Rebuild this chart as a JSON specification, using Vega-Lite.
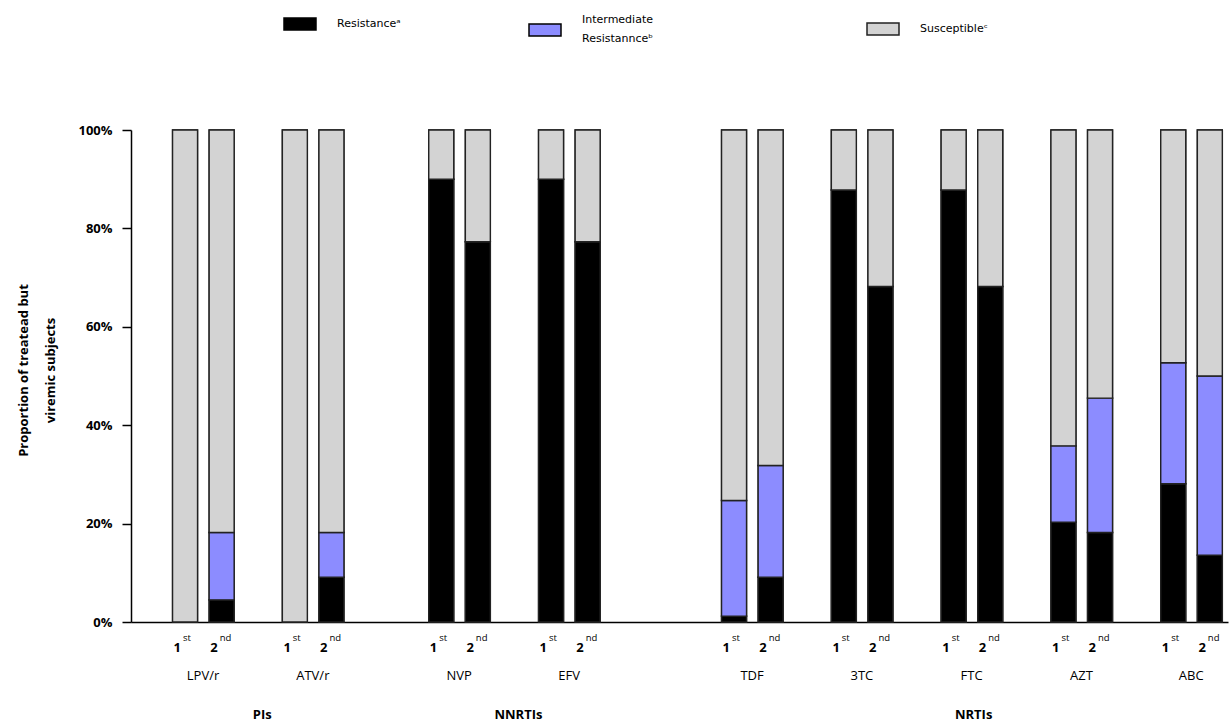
{
  "$schema": "https://vega.github.io/schema/vega-lite/v6.json",
  "autosize": {"type": "none"},
  "padding": {"left": 131, "top": 130, "right": 2, "bottom": 105},
  "width": 1097,
  "height": 492,
  "background": "white",
  "config": {
    "view": {"stroke": null},
    "font": "Open Sans",
    "axis": {"grid": false}
  },
  "data": {
    "values": [
      {"drug": "LPV/r", "round": "1st", "status": "Susceptible", "value": 1.0},
      {"drug": "LPV/r", "round": "2nd", "status": "Resistance", "value": 0.045},
      {"drug": "LPV/r", "round": "2nd", "status": "Intermediate Resistannce", "value": 0.137},
      {"drug": "LPV/r", "round": "2nd", "status": "Susceptible", "value": 0.818},
      {"drug": "ATV/r", "round": "1st", "status": "Susceptible", "value": 1.0},
      {"drug": "ATV/r", "round": "2nd", "status": "Resistance", "value": 0.091},
      {"drug": "ATV/r", "round": "2nd", "status": "Intermediate Resistannce", "value": 0.091},
      {"drug": "ATV/r", "round": "2nd", "status": "Susceptible", "value": 0.818},
      {"drug": "NVP", "round": "1st", "status": "Resistance", "value": 0.9},
      {"drug": "NVP", "round": "1st", "status": "Susceptible", "value": 0.1},
      {"drug": "NVP", "round": "2nd", "status": "Resistance", "value": 0.773},
      {"drug": "NVP", "round": "2nd", "status": "Susceptible", "value": 0.227},
      {"drug": "EFV", "round": "1st", "status": "Resistance", "value": 0.9},
      {"drug": "EFV", "round": "1st", "status": "Susceptible", "value": 0.1},
      {"drug": "EFV", "round": "2nd", "status": "Resistance", "value": 0.773},
      {"drug": "EFV", "round": "2nd", "status": "Susceptible", "value": 0.227},
      {"drug": "TDF", "round": "1st", "status": "Resistance", "value": 0.012},
      {"drug": "TDF", "round": "1st", "status": "Intermediate Resistannce", "value": 0.235},
      {"drug": "TDF", "round": "1st", "status": "Susceptible", "value": 0.753},
      {"drug": "TDF", "round": "2nd", "status": "Resistance", "value": 0.091},
      {"drug": "TDF", "round": "2nd", "status": "Intermediate Resistannce", "value": 0.227},
      {"drug": "TDF", "round": "2nd", "status": "Susceptible", "value": 0.682},
      {"drug": "3TC", "round": "1st", "status": "Resistance", "value": 0.878},
      {"drug": "3TC", "round": "1st", "status": "Susceptible", "value": 0.122},
      {"drug": "3TC", "round": "2nd", "status": "Resistance", "value": 0.682},
      {"drug": "3TC", "round": "2nd", "status": "Susceptible", "value": 0.318},
      {"drug": "FTC", "round": "1st", "status": "Resistance", "value": 0.878},
      {"drug": "FTC", "round": "1st", "status": "Susceptible", "value": 0.122},
      {"drug": "FTC", "round": "2nd", "status": "Resistance", "value": 0.682},
      {"drug": "FTC", "round": "2nd", "status": "Susceptible", "value": 0.318},
      {"drug": "AZT", "round": "1st", "status": "Resistance", "value": 0.203},
      {"drug": "AZT", "round": "1st", "status": "Intermediate Resistannce", "value": 0.155},
      {"drug": "AZT", "round": "1st", "status": "Susceptible", "value": 0.642},
      {"drug": "AZT", "round": "2nd", "status": "Resistance", "value": 0.182},
      {"drug": "AZT", "round": "2nd", "status": "Intermediate Resistannce", "value": 0.273},
      {"drug": "AZT", "round": "2nd", "status": "Susceptible", "value": 0.545},
      {"drug": "ABC", "round": "1st", "status": "Resistance", "value": 0.281},
      {"drug": "ABC", "round": "1st", "status": "Intermediate Resistannce", "value": 0.246},
      {"drug": "ABC", "round": "1st", "status": "Susceptible", "value": 0.473},
      {"drug": "ABC", "round": "2nd", "status": "Resistance", "value": 0.136},
      {"drug": "ABC", "round": "2nd", "status": "Intermediate Resistannce", "value": 0.364},
      {"drug": "ABC", "round": "2nd", "status": "Susceptible", "value": 0.5}
    ]
  },
  "transform": [
    {"calculate": "datum.drug + '|' + datum.round", "as": "key"},
    {"calculate": "indexof(['Resistance','Intermediate Resistannce','Susceptible'], datum.status)", "as": "ord"},
    {"calculate": "datum.status", "as": "status2"},
    {"calculate": "datum.status", "as": "status3"},
    {"calculate": "substring(datum.round, 0, 1)", "as": "num"},
    {"calculate": "substring(datum.round, 1)", "as": "suf"}
  ],
  "encoding": {
    "x": {
      "field": "key",
      "type": "nominal",
      "scale": {
        "domain": ["LPV/r|1st","LPV/r|2nd","_1","ATV/r|1st","ATV/r|2nd","_2","_3","NVP|1st","NVP|2nd","_4","EFV|1st","EFV|2nd","_5","_6","_7","TDF|1st","TDF|2nd","_8","3TC|1st","3TC|2nd","_9","FTC|1st","FTC|2nd","_10","AZT|1st","AZT|2nd","_11","ABC|1st","ABC|2nd"],
        "paddingInner": 0.317,
        "paddingOuter": 0.645,
        "align": 0.88
      },
      "axis": {
        "title": null,
        "labels": false,
        "ticks": false,
        "domain": true,
        "domainColor": "#000",
        "domainWidth": 1.5
      }
    }
  },
  "layer": [
    {
      "mark": {"type": "bar", "stroke": "#222", "strokeWidth": 1.4},
      "encoding": {
        "y": {
          "field": "value",
          "type": "quantitative",
          "stack": "zero",
          "scale": {"domain": [0, 1], "nice": false},
          "axis": {
            "values": [0, 0.2, 0.4, 0.6, 0.8, 1],
            "format": ".0%",
            "domainColor": "#000",
            "domainWidth": 1.5,
            "tickColor": "#000",
            "tickWidth": 1.5,
            "tickSize": 9,
            "labelPadding": 10,
            "labelFontWeight": "bold",
            "labelFontSize": 13,
            "labelColor": "#000",
            "title": ["Proportion of treatead but", "viremic subjects"],
            "titleFontWeight": "bold",
            "titleFontSize": 13,
            "titleColor": "#000",
            "titleLineHeight": 27,
            "titleX": -104,
            "titleY": 240,
            "titleAngle": 270,
            "titleAlign": "center",
            "titleBaseline": "alphabetic"
          }
        },
        "order": {"field": "ord", "type": "quantitative", "sort": "ascending"},
        "color": {
          "field": "status",
          "type": "nominal",
          "scale": {
            "domain": ["Resistance", "Intermediate Resistannce", "Susceptible"],
            "range": ["#000000", "#8C8CFF", "#D3D3D3"]
          },
          "legend": {
            "orient": "none",
            "legendX": 152,
            "legendY": -123,
            "values": ["Resistance"],
            "labelExpr": "'Resistanceᵃ'",
            "title": null,
            "padding": 0,
            "symbolType": "M-1,-0.375H1V0.375H-1Z",
            "symbolSize": 1024,
            "symbolStrokeColor": "#000",
            "symbolStrokeWidth": 1.5,
            "symbolOpacity": 1,
            "labelFont": "DejaVu Sans",
            "labelFontSize": 11,
            "labelColor": "#000",
            "labelOffset": 20
          }
        }
      }
    },
    {
      "mark": {"type": "bar", "strokeWidth": 1.4},
      "encoding": {
        "y": {"field": "value", "type": "quantitative", "stack": "zero"},
        "order": {"field": "ord", "type": "quantitative", "sort": "ascending"},
        "fill": {
          "field": "status2",
          "type": "nominal",
          "scale": {
            "domain": ["Intermediate Resistannce", "Susceptible", "Resistance"],
            "range": ["#8C8CFF", "#D3D3D3", "#000000"]
          },
          "legend": {
            "orient": "none",
            "legendX": 397,
            "legendY": -117,
            "values": ["Intermediate Resistannce"],
            "labelExpr": "['Intermediate', 'Resistannceᵇ']",
            "title": null,
            "padding": 0,
            "symbolType": "M-1,-0.375H1V0.375H-1Z",
            "symbolSize": 1024,
            "symbolStrokeColor": "#000",
            "symbolStrokeWidth": 1.5,
            "symbolOpacity": 1,
            "labelFont": "DejaVu Sans",
            "labelFontSize": 11,
            "labelColor": "#000",
            "labelOffset": 20,
            "encode": {
              "symbols": {"update": {"stroke": {"value": "#000"}, "strokeWidth": {"value": 1.5}}},
              "labels": {
                "update": {
                  "lineHeight": {"value": 19},
                  "dy": {"value": -10}
                }
              }
            }
          }
        },
        "stroke": {
          "field": "status3",
          "type": "nominal",
          "scale": {
            "domain": ["Susceptible", "Resistance", "Intermediate Resistannce"],
            "range": ["#222222", "#222222", "#222222"]
          },
          "legend": {
            "orient": "none",
            "legendX": 735,
            "legendY": -118,
            "values": ["Susceptible"],
            "labelExpr": "'Susceptibleᶜ'",
            "title": null,
            "padding": 0,
            "symbolType": "M-1,-0.375H1V0.375H-1Z",
            "symbolSize": 1024,
            "symbolFillColor": "#D3D3D3",
            "symbolStrokeWidth": 1.5,
            "symbolOpacity": 1,
            "labelFont": "DejaVu Sans",
            "labelFontSize": 11,
            "labelColor": "#000",
            "labelOffset": 20,
            "encode": {
              "symbols": {"update": {"fill": {"value": "#D3D3D3"}, "stroke": {"value": "#000"}, "strokeWidth": {"value": 1.5}, "opacity": {"value": 1}}}
            }
          }
        }
      }
    },
    {
      "transform": [{"filter": "datum.status == 'Susceptible'"}],
      "mark": {"type": "text", "align": "right", "baseline": "alphabetic", "dx": -4, "dy": 30, "fontSize": 13, "fontWeight": "bold", "color": "#000"},
      "encoding": {
        "y": {"datum": 0},
        "text": {"field": "num"}
      }
    },
    {
      "transform": [{"filter": "datum.status == 'Susceptible'"}],
      "mark": {"type": "text", "align": "left", "baseline": "alphabetic", "dx": -2, "dy": 19, "fontSize": 9.5, "color": "#000"},
      "encoding": {
        "y": {"datum": 0},
        "text": {"field": "suf"}
      }
    },
    {
      "transform": [{"filter": "datum.status == 'Susceptible' && datum.round == '1st'"}],
      "mark": {"type": "text", "align": "center", "baseline": "alphabetic", "dx": 18, "dy": 58, "fontSize": 13, "color": "#000"},
      "encoding": {
        "y": {"datum": 0},
        "text": {"field": "drug"}
      }
    },
    {
      "data": {
        "values": [
          {"cls": "PIs", "key": "_1"},
          {"cls": "NNRTIs", "key": "_4"}
        ]
      },
      "mark": {"type": "text", "align": "center", "baseline": "alphabetic", "dx": 4, "dy": 97, "fontSize": 13, "fontWeight": "bold", "color": "#000"},
      "encoding": {
        "x": {"field": "key", "type": "nominal"},
        "y": {"datum": 0},
        "text": {"field": "cls"}
      }
    },
    {
      "data": {
        "values": [
          {"cls": "NRTIs", "key": "FTC|1st"}
        ]
      },
      "mark": {"type": "text", "align": "center", "baseline": "alphabetic", "dx": 20, "dy": 97, "fontSize": 13, "fontWeight": "bold", "color": "#000"},
      "encoding": {
        "x": {"field": "key", "type": "nominal"},
        "y": {"datum": 0},
        "text": {"field": "cls"}
      }
    }
  ]
}
